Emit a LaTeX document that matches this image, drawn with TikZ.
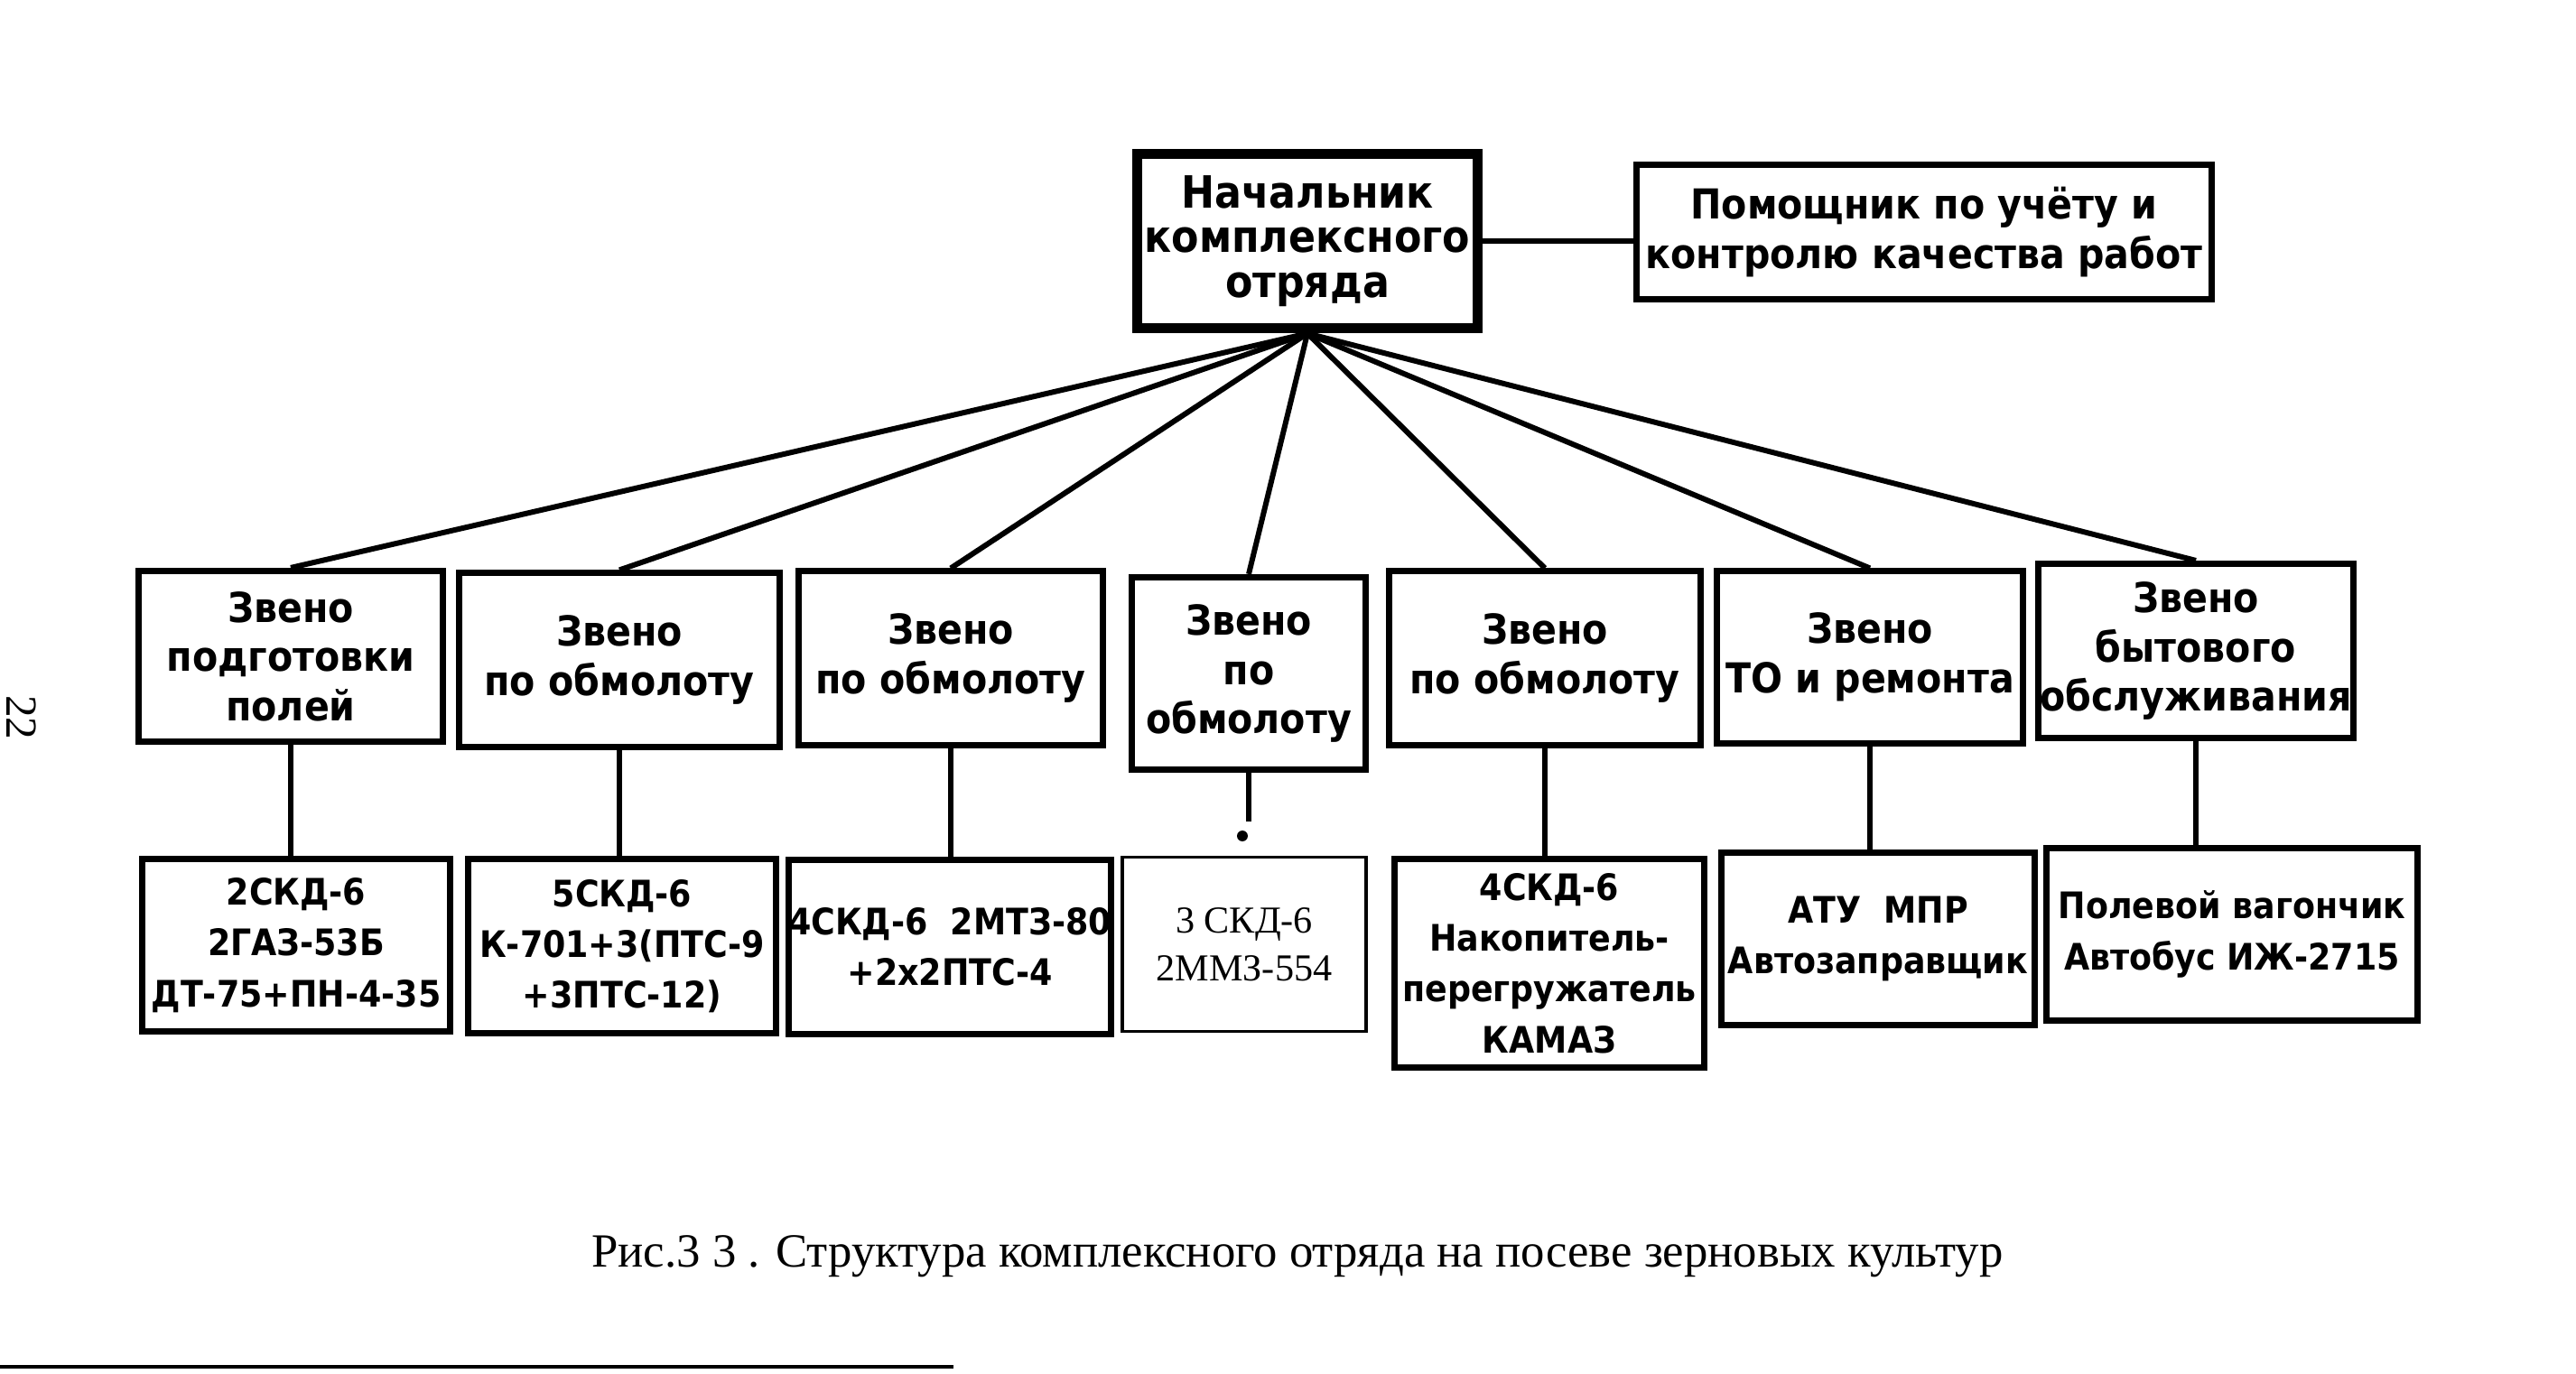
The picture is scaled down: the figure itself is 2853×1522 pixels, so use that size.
\documentclass[tikz,border=0pt]{standalone}
\usepackage{fontspec}
\setmainfont{Liberation Serif}
\newfontfamily\boxfont{DejaVu Sans Condensed Bold}
\begin{document}
\begin{tikzpicture}[x=0.01cm, y=-0.01cm,
    box/.style={draw, line width=2pt, align=center, inner sep=0pt,
      font=\boxfont\fontsize{13}{15.5}\selectfont},
    unit/.style={box, font=\boxfont\fontsize{11.5}{16}\selectfont},
    link/.style={line width=1.7pt}]
  \useasboundingbox (0,0) rectangle (2853,1522);
  \node[box, line width=3.3pt, minimum width=3.77cm, minimum height=1.93cm,
    font=\boxfont\fontsize{14}{14}\selectfont] (chief) at (1448,267) {Начальник\\комплексного\\отряда};
  \node[box, minimum width=6.36cm, minimum height=1.49cm] (helper) at (2131,257) {Помощник по учёту и\\контролю качества работ};
  \draw[link] (chief.east) -- (chief.east -| helper.west);

  \node[box, minimum width=3.36cm, minimum height=1.89cm] (z1) at (322,727) {Звено\\подготовки\\полей};
  \node[box, minimum width=3.55cm, minimum height=1.92cm] (z2) at (686,731) {Звено\\по обмолоту};
  \node[box, minimum width=3.37cm, minimum height=1.92cm] (z3) at (1053,729) {Звено\\по обмолоту};
  \node[box, minimum width=2.59cm, minimum height=2.13cm] (z4) at (1383,746) {Звено\\по\\обмолоту};
  \node[box, minimum width=3.44cm, minimum height=1.92cm] (z5) at (1711,729) {Звено\\по обмолоту};
  \node[box, minimum width=3.39cm, minimum height=1.90cm] (z6) at (2071,728) {Звено\\ТО и ремонта};
  \node[box, minimum width=3.48cm, minimum height=1.93cm] (z7) at (2432,721) {Звено\\бытового\\обслуживания};
  \foreach \z in {z1,z2,z3,z4,z5,z6,z7}
    \draw[link] (chief.south) -- (\z.north);

  \node[unit, minimum width=3.40cm, minimum height=1.91cm] (b1) at (328,1047) {2СКД-6\\2ГАЗ-53Б\\ДТ-75+ПН-4-35};
  \node[unit, minimum width=3.40cm, minimum height=1.93cm] (b2) at (689,1048) {5СКД-6\\К-701+3(ПТС-9\\+3ПТС-12)};
  \node[unit, minimum width=3.44cm, minimum height=1.92cm] (b3) at (1052,1049) {4СКД-6 \ 2МТЗ-80\\+2х2ПТС-4};
  \node[box, line width=1.1pt, minimum width=2.70cm, minimum height=1.93cm,
    font=\fontsize{12}{15}\selectfont] (b4) at (1378,1046) {3 СКД-6\\2ММЗ-554};
  \node[unit, minimum width=3.43cm, minimum height=2.31cm] (b5) at (1716,1067) {4СКД-6\\Накопитель-\\перегружатель\\КАМАЗ};
  \node[unit, minimum width=3.47cm, minimum height=1.90cm] (b6) at (2080,1040) {АТУ \ МПР\\Автозаправщик};
  \node[unit, minimum width=4.11cm, minimum height=1.90cm] (b7) at (2472,1035) {Полевой вагончик\\Автобус ИЖ-2715};
  \foreach \z/\b in {z1/b1,z2/b2,z3/b3,z5/b5,z6/b6,z7/b7}
    \draw[link] (\z.south) -- (\z.south |- \b.north);
  \coordinate (cut) at (1376,910);
  \draw[link] (z4.south) -- (z4.south |- cut);
  \fill (1376,926) circle (1.7pt);

  \node[font=\fontsize{15}{18}\selectfont] (caption) at (1437,1392) {Рис.3 3 . Структура комплексного отряда на посеве зерновых культур};
  \node[rotate=-90, font=\fontsize{14}{14}\selectfont] (page) at (24,795) {22};
  \draw[line width=1pt] (0,1514) -- (1056,1514);
\end{tikzpicture}
\end{document}
